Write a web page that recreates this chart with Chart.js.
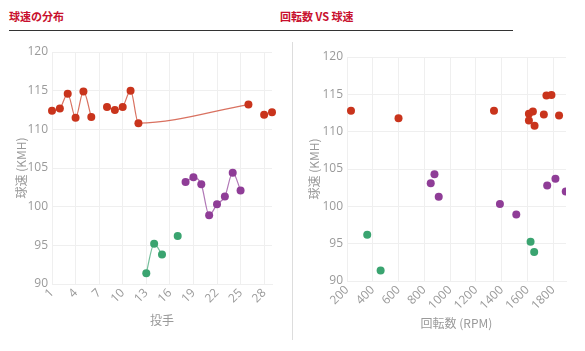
<!DOCTYPE html>
<html>
<head>
<meta charset="utf-8">
<script src="https://cdn.jsdelivr.net/npm/chart.js@4/dist/chart.umd.min.js"></script>
<style>
  body { margin: 0; background: #fff; font-family: "Noto Sans CJK JP", sans-serif; }
  .wrap { position: relative; width: 585px; height: 351px; }
  .head { position: absolute; top: 8px; font-size: 11px; font-weight: bold; color: #c8102e; }
  .rule { position: absolute; left: 9px; top: 30px; width: 504px; height: 1px; background: #333; }
  .divider { position: absolute; left: 292px; top: 42px; width: 1px; height: 298px; background: #ddd; }
  #speedChart { position: absolute; left: 0; top: 40px; }
  #spinChart { position: absolute; left: 295px; top: 40px; }
</style>
</head>
<body>
<div class="wrap">
  <div class="head" style="left:9px">球速の分布</div>
  <div class="head" style="left:280px">回転数 VS 球速</div>
  <div class="rule"></div>
  <div class="divider"></div>
  <canvas id="speedChart" width="285" height="292"></canvas>
  <canvas id="spinChart" width="290" height="295"></canvas>
</div>
<script>
// pitcher numbers 1..29
const pitchers = ["1","2","3","4","5","6","7","8","9","10","11","12","13","14","15","16","17","18","19","20","21","22","23","24","25","26","27","28","29"];

// speed by pitcher (km/h), null = not in group
const redSpeedA = [112.4, 112.7, 114.6, 111.5, 114.9, 111.6, null, null, null, null, null, null, null, null, null, null, null, null, null, null, null, null, null, null, null, null, null, null, null];
const redSpeedB = [null, null, null, null, null, null, null, 112.9, 112.5, 112.9, 115.0, 110.8, null, null, null, null, null, null, null, null, null, null, null, null, null, 113.2, null, null, null];
const redSpeedC = [null, null, null, null, null, null, null, null, null, null, null, null, null, null, null, null, null, null, null, null, null, null, null, null, null, null, null, 111.9, 112.2];
const purpleSpeed = [null, null, null, null, null, null, null, null, null, null, null, null, null, null, null, null, null, 103.2, 103.8, 102.9, 98.9, 100.3, 101.3, 104.4, 102.1, null, null, null, null];
const greenSpeed = [null, null, null, null, null, null, null, null, null, null, null, null, 91.4, 95.2, 93.8, null, 96.2, null, null, null, null, null, null, null, null, null, null, null, null];

// spin rate (rpm) vs speed (km/h)
const redRpm = [231, 600, 1341, 1612, 1643, 1612, 1656, 1728, 1748, 1787, 1846];
const redKmh = [112.8, 111.8, 112.8, 112.4, 112.7, 111.5, 110.8, 112.3, 114.85, 114.9, 112.15];
const purpleRpm = [850, 879, 912, 1387, 1514, 1754, 1818, 1898];
const purpleKmh = [103.1, 104.3, 101.3, 100.3, 98.9, 102.8, 103.7, 102.0];
const greenRpm = [357, 461, 1625, 1653];
const greenKmh = [96.2, 91.4, 95.25, 93.9];

const RED = "#c9341c";
const PURPLE = "#8f3d97";
const GREEN = "#3aa470";
const tickFont = { family: "Open Sans", size: 12 };
const titleFont = { family: "Noto Sans CJK JP", size: 12 };
const tickColor = "#9a9a9a";
const gridColor = "#efefef";

const lineSet = (data, color, lineColor, extra) => Object.assign({
  data: data,
  borderColor: lineColor,
  backgroundColor: color,
  pointBackgroundColor: color,
  pointBorderColor: color,
  pointBorderWidth: 0,
  pointRadius: 4,
  pointHoverRadius: 4,
  borderWidth: 1.2,
  cubicInterpolationMode: "monotone",
}, extra || {});

const speedAxis = (width) => ({
  min: 90,
  max: 120,
  afterFit: (scale) => { scale.width = width; },
  ticks: { stepSize: 5, color: tickColor, font: tickFont, padding: 4 },
  grid: { color: gridColor, drawTicks: false },
  border: { color: gridColor },
  title: { display: true, text: "球速 (KMH)", color: tickColor, font: titleFont, padding: 2 },
});

new Chart(document.getElementById("speedChart"), {
  type: "line",
  data: {
    labels: pitchers,
    datasets: [
      lineSet(redSpeedA, RED, "rgba(201,52,28,0.7)"),
      lineSet(redSpeedB, RED, "rgba(201,52,28,0.7)", { spanGaps: true }),
      lineSet(redSpeedC, RED, "rgba(201,52,28,0.7)", { showLine: false }),
      lineSet(purpleSpeed, PURPLE, "rgba(143,61,151,0.7)"),
      lineSet(greenSpeed, GREEN, "rgba(58,164,112,0.7)"),
    ],
  },
  options: {
    responsive: false,
    animation: false,
    layout: { padding: { top: 12, right: 13, left: 12, bottom: 0 } },
    plugins: { legend: { display: false }, tooltip: { enabled: false } },
    scales: {
      x: {
        afterFit: (scale) => { scale.height = 48; },
        ticks: {
          autoSkip: false,
          maxRotation: 45,
          minRotation: 45,
          color: tickColor,
          font: tickFont,
          padding: 2,
          callback: function (value, index) {
            return index % 3 === 0 ? this.getLabelForValue(value) : null;
          },
        },
        grid: { color: gridColor, drawTicks: false },
        border: { color: gridColor },
        title: { display: true, text: "投手", color: tickColor, font: titleFont, padding: 4 },
      },
      y: speedAxis(40),
    },
  },
});

const toPoints = (xs, ys) => xs.map((x, i) => ({ x: x, y: ys[i] }));

new Chart(document.getElementById("spinChart"), {
  type: "scatter",
  data: {
    datasets: [
      lineSet(toPoints(redRpm, redKmh), RED, RED),
      lineSet(toPoints(purpleRpm, purpleKmh), PURPLE, PURPLE),
      lineSet(toPoints(greenRpm, greenKmh), GREEN, GREEN),
    ],
  },
  options: {
    responsive: false,
    animation: false,
    layout: { padding: { top: 17, right: 19, left: 10, bottom: 0 } },
    plugins: { legend: { display: false }, tooltip: { enabled: false } },
    scales: {
      x: {
        min: 200,
        max: 1900,
        afterFit: (scale) => { scale.height = 54; },
        ticks: {
          stepSize: 200,
          includeBounds: false,
          maxRotation: 45,
          minRotation: 45,
          color: tickColor,
          font: tickFont,
          padding: 2,
          callback: (value) => String(value),
        },
        grid: { color: gridColor, drawTicks: false },
        border: { color: gridColor },
        title: { display: true, text: "回転数 (RPM)", color: tickColor, font: titleFont, padding: 4 },
      },
      y: speedAxis(42),
    },
  },
});
</script>
</body>
</html>
